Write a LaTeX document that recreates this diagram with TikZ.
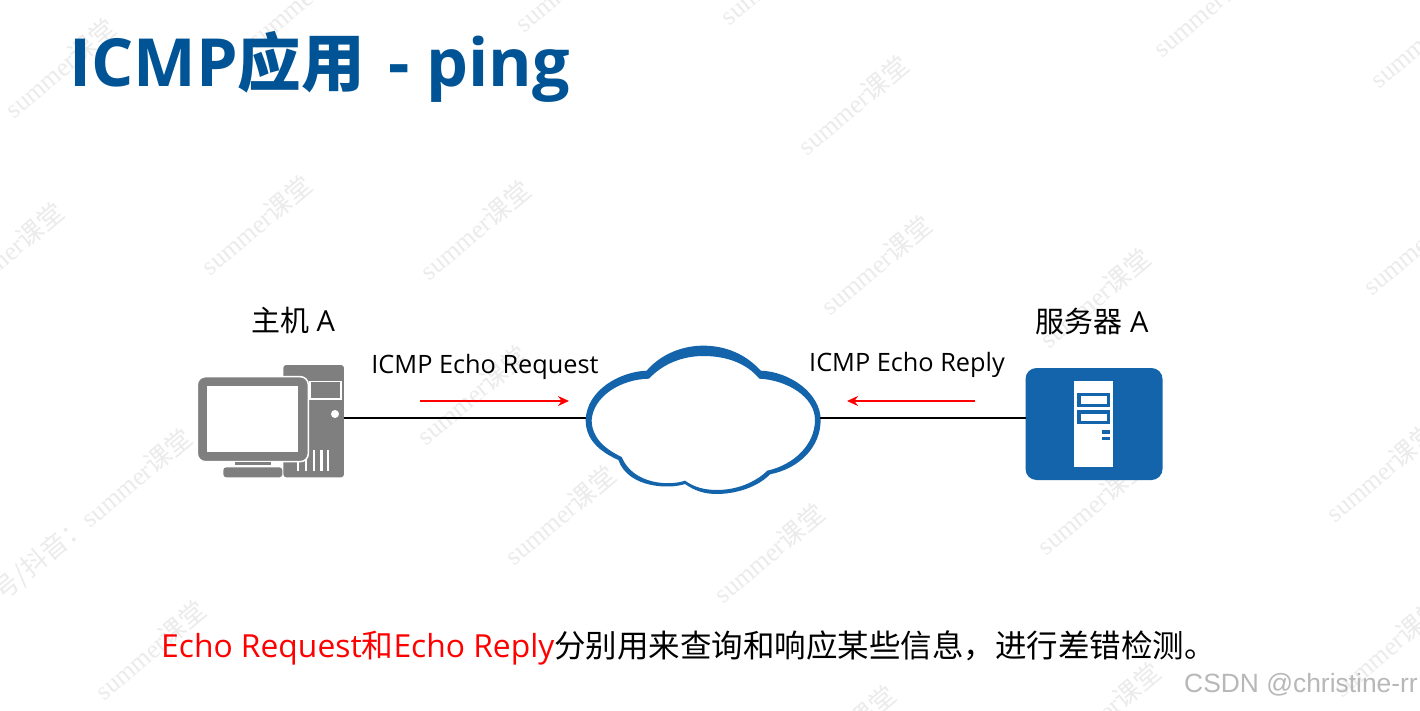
\documentclass[tikz,border=0pt]{standalone}
\usepackage{fontspec}
\setmainfont{Open Sans}
\newfontfamily\cjk{Noto Sans CJK SC}
\newfontfamily\wmfont{Liberation Serif}
\newfontfamily\sigfont{Liberation Sans}
\usepackage{xcolor}
\usetikzlibrary{arrows.meta, positioning}
\definecolor{titleblue}{HTML}{005496}
\definecolor{netblue}{HTML}{1464AB}
\definecolor{hostgray}{HTML}{7F7F7F}
\tikzset{
  titletext/.style={font=\fontsize{66.4}{70}\selectfont\bfseries, text=titleblue, inner sep=0pt},
  devlabel/.style={font=\fontsize{29}{31}\selectfont, inner sep=0pt},
  msglabel/.style={font=\fontsize{25.3}{27}\selectfont, inner sep=0pt},
  notetext/.style={font=\fontsize{31.8}{34}\selectfont, inner sep=0pt},
  wmtext/.style={font=\fontsize{26}{28}\selectfont, text=black!8, rotate=40, inner sep=0pt},
  signature/.style={font=\fontsize{26.4}{28}\selectfont\sigfont, text=black!28, inner sep=0pt},
  link/.style={draw=black, line width=1.6pt},
  msgarrow/.style={draw=red, line width=2pt, -{Stealth[length=11pt, width=10pt]}},
  serverbox/.style={rectangle, fill=netblue, rounded corners=11pt, minimum width=137pt,
                    minimum height=112pt, inner sep=0pt},
}

\begin{document}
\begin{tikzpicture}[x=1pt, y=-1pt]
  \useasboundingbox (0,0) rectangle (1420,711);
  \fill[white] (0,0) rectangle (1420,711);

  % --- watermark ---
  \begin{scope}
    \clip (0,0) rectangle (1420,711);
    \foreach \wx/\wy in {60/68, 303/-2, 570/-18, 775/-25, 1208/7, 1425/38, 853/105,
                         256/225, 475/230, 8/252, 876/265, 1095/298, 1418/245,
                         472/395, 560/515, 769/553, 1092/505, 1381/472,
                         150/650, 1388/647, 1105/712, 840/735}
      \node[wmtext] (wm\wx) at (\wx,\wy) {\wmfont summer{\cjk 课堂}};
    \node[wmtext] (wmlong) at (93,515) {{\cjk 号/抖音：}\wmfont summer{\cjk 课堂}};
  \end{scope}

  \node[titletext, anchor=west] (title) at (69,67)
    {ICMP{\cjk\fontsize{63.5}{70}\selectfont 应用}\hspace{6pt} - ping};

  % --- cloud ---
  \begin{scope}[shift={(570,330)}, x=0.3333pt, y=-0.3333pt]
    \fill[netblue, even odd rule]
      (47,270) .. controls (50,180) and (150,125) .. (230,122)
      .. controls (275,70) and (340,47) .. (400,47)
      .. controls (470,47) and (530,75) .. (572,122)
      .. controls (660,125) and (752,190) .. (752,270)
      .. controls (752,350) and (690,415) .. (600,433)
      .. controls (565,470) and (500,492) .. (440,492)
      .. controls (400,492) and (370,480) .. (345,462)
      .. controls (300,478) and (175,475) .. (145,390)
      .. controls (90,365) and (47,330) .. (47,270) -- cycle
      (65,270) .. controls (70,200) and (150,148) .. (237,146)
      .. controls (280,100) and (340,78) .. (400,78)
      .. controls (470,78) and (530,100) .. (568,146)
      .. controls (650,150) and (735,200) .. (735,270)
      .. controls (735,345) and (670,405) .. (592,422)
      .. controls (555,458) and (500,480) .. (440,480)
      .. controls (400,480) and (370,470) .. (345,452)
      .. controls (300,468) and (190,465) .. (155,381)
      .. controls (100,355) and (65,320) .. (65,270) -- cycle;
  \end{scope}
  \coordinate (cloudwest) at (586,418);
  \coordinate (cloudeast) at (820,418);

  % --- host ---
  \begin{scope}[shift={(180,350)}, x=0.3333pt, y=-0.3333pt]
    \fill[hostgray, rounded corners=3pt] (310,45) rectangle (492,382);
    \draw[white, line width=1.3pt] (390,95) rectangle (483,147);
    \fill[white] (465,192) circle (12);
    \foreach \vx in {355,378,402,425,445}
      \fill[white] (\vx-3.5,300) rectangle (\vx+3.5,362);
    \fill[white] (130,338) rectangle (310,382);
    \fill[hostgray, rounded corners=8pt, draw=white, line width=1.5pt] (52,80) rectangle (385,335);
    \fill[white] (82,107) rectangle (355,305);
    \fill[hostgray] (165,335) rectangle (272,346);
    \fill[hostgray, rounded corners=3pt] (130,352) -- (307,352) -- (307,382) -- (130,382) -- cycle;
  \end{scope}
  \coordinate (hostport) at (344,418);

  % --- server ---
  \node[serverbox] (server) at (1094,424) {};
  \coordinate (serverport) at (1026,418);
  \begin{scope}[shift={(1010,355)}, x=0.3333pt, y=-0.3333pt]
    \fill[white] (192,78) rectangle (310,335);
    \foreach \sy in {113,165} {
      \fill[netblue] (202,\sy) rectangle (300,\sy+42);
      \fill[white] (214,\sy+11) rectangle (290,\sy+33);
    }
    \fill[netblue] (277,225) rectangle (299,236);
    \fill[netblue] (277,245) rectangle (299,256);
  \end{scope}

  \draw[link] (hostport) -- (cloudwest);
  \draw[link] (cloudeast) -- (serverport);

  \node[devlabel] (hostlabel) at (293,320) {{\cjk 主机} A};
  \node[devlabel] (serverlabel) at (1092,321) {{\cjk 服务器} A};

  \node[msglabel] (reqlabel) at (485,367) {ICMP Echo Request};
  \node[msglabel] (replabel) at (907,365) {ICMP Echo Reply};
  \coordinate (reqstart) at (420,401);
  \coordinate (reqend) at (569,401);
  \coordinate (repstart) at (975,401);
  \coordinate (repend) at (847,401);
  \draw[msgarrow] (reqstart) -- (reqend);
  \draw[msgarrow] (repstart) -- (repend);

  \node[notetext, anchor=west] (note) at (161,647.5)
    {\textcolor{red}{Echo Request{\cjk 和}Echo Reply}{\cjk\fontsize{31.5}{34}\selectfont 分别用来查询和响应某些信息，进行差错检测。}};

  \node[signature, anchor=east] (csdn) at (1418,685) {CSDN @christine-rr};
\end{tikzpicture}
\end{document}
